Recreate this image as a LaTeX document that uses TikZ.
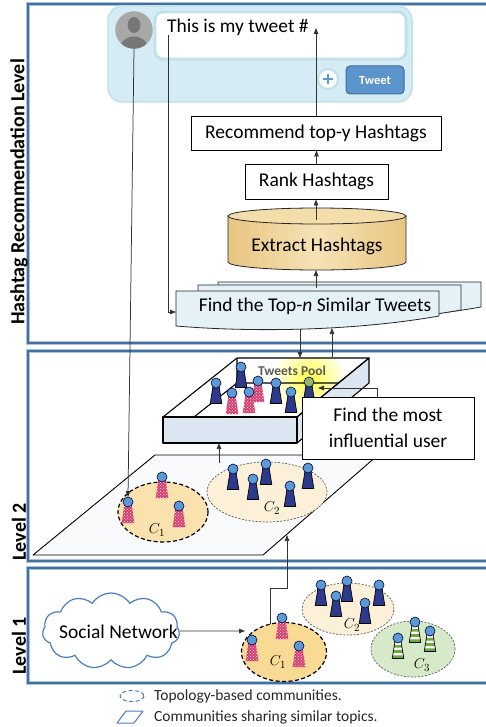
\documentclass[tikz,border=0pt]{standalone}
\usepackage{fontspec}
\setmainfont{Carlito}
\usetikzlibrary{arrows.meta,shapes.geometric,shapes.symbols,patterns}

\definecolor{frameblue}{HTML}{41719C}
\definecolor{framehalo}{HTML}{A9C2DD}
\definecolor{tweetbg}{HTML}{D5ECF4}
\definecolor{tweetedge}{HTML}{C0E0EC}
\definecolor{btnblue}{HTML}{5B93CD}
\definecolor{btnedge}{HTML}{3E6E9F}
\definecolor{plusblue}{HTML}{5B9BD5}
\definecolor{avatarbg}{HTML}{A8A8A8}
\definecolor{avatardk}{HTML}{777777}
\definecolor{docfill}{HTML}{E4F1F7}
\definecolor{cylside}{HTML}{E9C582}
\definecolor{cyllight}{HTML}{F6E2B6}
\definecolor{cyltop}{HTML}{F3DDAA}
\definecolor{headblue}{HTML}{5B9BD5}
\definecolor{headgreen}{HTML}{93B869}
\definecolor{bodynavy}{HTML}{2D3A8C}
\definecolor{bodyred}{HTML}{D83A6E}
\definecolor{stripegreen}{HTML}{6AAA3E}
\definecolor{commA}{HTML}{F9DA95}
\definecolor{commAlt}{HTML}{FAE2AE}
\definecolor{commB}{HTML}{FCF1D8}
\definecolor{commC}{HTML}{D6E9C8}
\definecolor{poolface}{HTML}{DCE6F1}
\definecolor{pooltext}{HTML}{595959}
\definecolor{cloudblue}{HTML}{4A7EBB}
\definecolor{planefill}{HTML}{F8FAFC}

\begin{document}
\begin{tikzpicture}[x=1pt,y=-1pt,
  conn/.style={draw=black!80, line width=0.75, -{Triangle[length=6pt,width=4.5pt]}},
  box/.style={draw=black, line width=0.9, fill=white, inner sep=0, font=\fontsize{19.5}{26}\selectfont},
  lvl/.style={font=\fontsize{20}{20}\selectfont\bfseries, inner sep=0, rotate=90},
  frameh/.style={draw=framehalo, line width=4},
  framel/.style={draw=frameblue, line width=2},
  docst/.style={draw=black!85, line width=0.8, fill=docfill},
  poolline/.style={draw=black, line width=1.1, line join=round},
  topo/.style={ellipse, draw=black, line width=1.2, dash pattern=on 4pt off 2.5pt, inner sep=0},
  topic/.style={ellipse, draw=black!65, line width=0.7, dash pattern=on 2pt off 1.5pt, inner sep=0},
  clabel/.style={font=\fontsize{15}{15}\selectfont, inner sep=0},
  legtext/.style={anchor=west, font=\fontsize{15.5}{16}\selectfont, text=black!85, inner sep=0},
  phead/.style={fill=headblue, draw=black!75!blue, line width=0.6},
  pbody/.style={draw=black, line width=0.7},
  bluep/.pic={
    \draw[pbody, fill=bodynavy] (-3.1,3.8) -- (3.1,3.8) -- (5.8,20.5) -- (-5.8,20.5) -- cycle;
    \draw[phead] (0,0) circle (5);
  },
  gbluep/.pic={
    \draw[pbody, fill=bodynavy] (-3.1,3.8) -- (3.1,3.8) -- (5.8,20.5) -- (-5.8,20.5) -- cycle;
    \draw[phead, fill=headgreen] (0,0) circle (5);
  },
  redp/.pic={
    \fill[bodyred] (-3.8,3.8) -- (3.8,3.8) -- (6.3,21) -- (-6.3,21) -- cycle;
    \fill[pattern=crosshatch dots, pattern color=white] (-3.8,3.8) -- (3.8,3.8) -- (6.3,21) -- (-6.3,21) -- cycle;
    \draw[phead] (0,0) circle (5);
  },
  greenp/.pic={
    \fill[white] (-3.1,3.8) -- (3.1,3.8) -- (5.8,20.5) -- (-5.8,20.5) -- cycle;
    \begin{scope}
      \clip (-3.1,3.8) -- (3.1,3.8) -- (5.8,20.5) -- (-5.8,20.5) -- cycle;
      \fill[stripegreen] (-7,7) rectangle (7,9.6) (-7,12.2) rectangle (7,14.8) (-7,17.4) rectangle (7,20);
    \end{scope}
    \draw[pbody] (-3.1,3.8) -- (3.1,3.8) -- (5.8,20.5) -- (-5.8,20.5) -- cycle;
    \draw[phead] (0,0) circle (5);
  }
]
\useasboundingbox (0,0) rectangle (486,727);

% ---------- level frames (open to the right) ----------
\foreach \t/\b in {4/343,351/561,568/683}{
  \draw[frameh] (492,\t) -- (28,\t) -- (28,\b) -- (492,\b);
  \draw[framel] (492,\t) -- (28,\t) -- (28,\b) -- (492,\b);
}

\node[lvl] (lblhr) at (19,192) {Hashtag Recommendation Level};
\node[lvl] (lbl2) at (19,532) {Level 2};
\node[lvl] (lbl1) at (19,646) {Level 1};

% ---------- tweet composer ----------
\node[draw=tweetedge, fill=tweetbg, line width=1.5, rounded corners=14,
      minimum width=304, minimum height=96, inner sep=0] (tweetcard) at (260,54) {};
\node[draw=tweetedge, fill=white, line width=2.8, rounded corners=8,
      minimum width=251, minimum height=47, inner sep=0] (tweetfield) at (280.5,35.5) {};
\node[anchor=base west, font=\fontsize{19.5}{20}\selectfont, inner sep=0] (ttext) at (167,33) {This is my tweet \#};
\node[circle, fill=avatarbg, minimum size=37.5, inner sep=0] (avatar) at (134,30) {};
\begin{scope}
  \clip (134,30) circle (18.7);
  \fill[avatardk] (134,25) ellipse (6.3 and 8);
  \fill[avatardk] (134,48.5) ellipse (14 and 12);
\end{scope}
\node[circle, draw=tweetedge, line width=2, fill=white, minimum size=20, inner sep=0] (plus) at (328,79) {};
\draw[plusblue, line width=2] (plus.center) ++(-5,0) -- ++(10,0) (plus.center) ++(0,-5) -- ++(0,10);
\node[draw=btnedge, fill=btnblue, rounded corners=4, line width=1, minimum width=58, minimum height=28,
      inner sep=0, text=white, font=\fontsize{12.5}{13}\selectfont\bfseries] (btn) at (375,80) {Tweet};

% ---------- recommendation pipeline ----------
\node[box, minimum width=250, minimum height=34] (rec) at (316,133) {Recommend top-y Hashtags};
\node[box, minimum width=143, minimum height=35] (rank) at (316.5,181.5) {Rank Hashtags};

\path[draw=black!85, line width=0.8, left color=cylside, right color=cylside, middle color=cyllight]
  (228,216) -- (228,262) arc[start angle=180, end angle=0, x radius=89, y radius=8] -- (406,216) -- cycle;
\draw[black!85, line width=0.8, fill=cyltop] (317,216) ellipse [x radius=89, y radius=8];
\node[font=\fontsize{19.5}{20}\selectfont, inner sep=0] (ext) at (317,246) {Extract Hashtags};
\coordinate (cyltopc) at (316,220);
\coordinate (cylbot) at (316,270);

\foreach \dx/\dy in {42/-9,22/-6,0/0}{
  \begin{scope}[shift={(\dx,\dy)}]
    \draw[docst] (176,291) -- (439,291) -- (439,316) .. controls (360,330) and (260,333) .. (176,326) -- cycle;
  \end{scope}
}
\node[font=\fontsize{19.5}{20}\selectfont, inner sep=0] (findtxt) at (315,306) {Find the Top-\textit{n} Similar Tweets};
\coordinate (findtop) at (316,288);
\coordinate (findleft) at (176,312);
\coordinate (findbotA) at (300,329);
\coordinate (findbotB) at (332,328);
\coordinate (tstart) at (168,35);
\coordinate (hashpt) at (316,28);

% ---------- level 2: topic plane ----------
\draw[fill=planefill, line width=0.9, line join=round] (33,555) -- (263,555) -- (378,455) -- (155,455) -- cycle;
\node[topo, fill=commAlt, minimum width=90, minimum height=60] (p2c1) at (163,512) {};
\node[topic, fill=commB, minimum width=120, minimum height=60] (p2c2) at (267,492) {};
\pic at (162,477) {redp};
\pic at (128,502) {redp};
\pic at (179,506) {redp};
\pic at (266,464) {bluep};
\pic at (233,469) {bluep};
\pic at (308,468) {bluep};
\pic at (253,479) {bluep};
\pic at (290,486) {bluep};
\node[clabel] (p2c1l) at (157,530) {$C_1$};
\node[clabel] (p2c2l) at (272,508) {$C_2$};
\coordinate (u2head) at (128,497);
\coordinate (planept) at (219,463);
\coordinate (planeedge) at (287,535);

% ---------- level 2: tweets pool ----------
\fill[poolface] (163,417) rectangle (297,443);
\fill[poolface] (297,417) -- (369,358) -- (369,383) -- (297,443) -- cycle;
\fill[white] (237,358) -- (369,358) -- (297,417) -- (163,417) -- cycle;
\begin{scope}
  \clip (237,358) -- (369,358) -- (297,417) -- (163,417) -- cycle;
  \shade[inner color=yellow!75, outer color=white] (309,380) circle (38);
\end{scope}
\draw[poolline] (237,358) -- (237,383) -- (194,417) (237,383) -- (339,383);
\draw[poolline] (237,358) -- (369,358) -- (297,417) -- (163,417) -- cycle;
\draw[poolline] (163,417) rectangle (297,443);
\draw[poolline] (297,417) -- (369,358) -- (369,383) -- (297,443);
\node[font=\fontsize{13.5}{14}\selectfont\bfseries, text=pooltext, inner sep=0] (poolname) at (292,371) {Tweets Pool};
\pic at (241,367) {bluep};
\pic at (258,381) {redp};
\pic at (309,382) {gbluep};
\pic at (216,383) {bluep};
\pic at (276,383) {bluep};
\pic at (291,392) {bluep};
\pic at (249,392) {redp};
\pic at (232,393) {redp};
\coordinate (pooltopA) at (300,358);
\coordinate (pooltopB) at (332,357);
\coordinate (poolbot) at (219,443);
\coordinate (gu) at (318,388);

\node[box, align=center, minimum width=172, minimum height=62] (infl) at (388,428) {Find the most\\influential user};
\coordinate (inflc) at (377,397);

% ---------- level 1 ----------
\node[cloud, draw=cloudblue, line width=1.2, cloud puffs=11, cloud puff arc=115, aspect=1.8,
      minimum width=137, minimum height=76, inner sep=0] (cloud) at (111,631) {};
\node[font=\fontsize{19.5}{20}\selectfont, inner sep=0] (sn) at (118.5,632) {Social Network};
\node[topo, fill=commA, minimum width=85, minimum height=59] (l1c1) at (284,652) {};
\node[topic, fill=commB, minimum width=92, minimum height=52] (l1c2) at (348,609) {};
\node[topic, fill=commC, minimum width=84, minimum height=56] (l1c3) at (413,649) {};
\pic at (347,581) {bluep};
\pic at (321,585) {bluep};
\pic at (379,585) {bluep};
\pic at (336,596) {bluep};
\pic at (365,603) {bluep};
\pic at (282,618) {redp};
\pic at (252,640) {redp};
\pic at (299,646) {redp};
\pic at (415,622) {greenp};
\pic at (430,631) {greenp};
\pic at (398,638) {greenp};
\node[clabel] (l1c1l) at (278,662) {$C_1$};
\node[clabel] (l1c2l) at (352,625) {$C_2$};
\node[clabel] (l1c3l) at (422,665) {$C_3$};
\coordinate (c1in) at (245,631);
\coordinate (c1top) at (270,624);
\coordinate (bend) at (287,588);

% ---------- connectors ----------
\draw[conn] (rec.north) -- (hashpt);
\draw[conn] (rank.north) -- (rank.north |- rec.south);
\draw[conn] (cyltopc) -- (cyltopc |- rank.south);
\draw[conn] (findtop) -- (cylbot);
\draw[conn] (tstart) |- (findleft);
\draw[conn] (avatar.south) -- (u2head);
\draw[conn] (findbotA) -- (pooltopA);
\draw[conn] (pooltopB) -- (findbotB);
\draw[conn] (planept) -- (poolbot);
\draw[conn] (inflc) |- (gu);
\draw[conn] (c1top) |- (bend) -- (planeedge);
\draw[conn] (cloud.east) -- (c1in);

% ---------- legend ----------
\draw[cloudblue, line width=1, dash pattern=on 4pt off 2.5pt] (132,696) ellipse [x radius=12, y radius=5.5];
\node[legtext] (leg1) at (154,696) {Topology-based communities.};
\draw[cloudblue, line width=1, line join=round] (117,723) -- (134,723) -- (143,711) -- (126,711) -- cycle;
\node[legtext] (leg2) at (154,717) {Communities sharing similar topics.};
\end{tikzpicture}
\end{document}
